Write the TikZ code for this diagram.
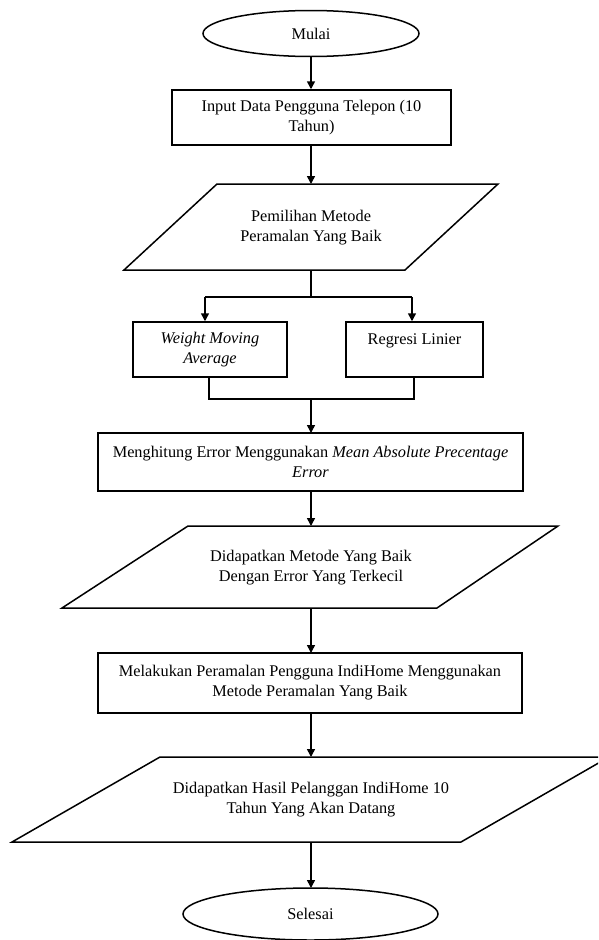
\documentclass[tikz,border=0pt]{standalone}
\usepackage{fontspec}
\setmainfont{Liberation Serif}
\usetikzlibrary{shapes.geometric,arrows.meta}
\begin{document}
\begin{tikzpicture}[x=1pt,y=-1pt,
  every node/.style={font=\fontsize{16.3}{20}\selectfont, align=center, inner sep=0pt},
  term/.style={draw, ellipse, line width=1.5pt},
  proc/.style={draw, rectangle, line width=1.5pt},
  ln/.style={line width=1.5pt},
  arr/.style={line width=1.5pt, -{Triangle[length=8pt,width=8pt]}}]
\clip (0,0) rectangle (598,940);
\fill[white] (0,0) rectangle (598,940);

% start
\node[term, minimum width=216pt, minimum height=46pt] (mulai) at (311,33.5) {Mulai};
\node[proc, minimum width=279pt, minimum height=55pt] (input) at (311.5,117.5) {Input Data Pengguna Telepon (10\\Tahun)};

% parallelogram 1
\coordinate (p1tl) at (217,184); \coordinate (p1tr) at (498,184);
\coordinate (p1br) at (405,270); \coordinate (p1bl) at (124,270);
\draw[ln] (p1tl) -- (p1tr) -- (p1br) -- (p1bl) -- cycle;
\node (pilih) at (311,228) {Pemilihan Metode\\Peramalan Yang Baik};
\coordinate (p1t) at (311,184); \coordinate (p1b) at (311,270);

% two methods
\node[proc, minimum width=154pt, minimum height=55pt, font=\fontsize{16.3}{20}\selectfont\itshape] (wma) at (210,349.5) {Weight Moving\\Average};
\node[proc, minimum width=137pt, minimum height=55pt] (reg) at (414.5,349.5) {Regresi Linier\\\mbox{}};

% box 3
\node[proc, minimum width=425pt, minimum height=58pt] (hitung) at (310.5,462) {Menghitung Error Menggunakan \textit{Mean Absolute Precentage}\\\textit{Error}};

% parallelogram 2
\coordinate (p2tl) at (188,526); \coordinate (p2tr) at (558,526);
\coordinate (p2br) at (437,608); \coordinate (p2bl) at (62,608);
\draw[ln] (p2tl) -- (p2tr) -- (p2br) -- (p2bl) -- cycle;
\node (dapat) at (311,568) {Didapatkan Metode Yang Baik\\Dengan Error Yang Terkecil};
\coordinate (p2t) at (311,526); \coordinate (p2b) at (311,608);

% box 4
\node[proc, minimum width=424pt, minimum height=60pt] (ramal) at (310,683) {Melakukan Peramalan Pengguna IndiHome Menggunakan\\Metode Peramalan Yang Baik};

% parallelogram 3
\coordinate (p3tl) at (160,757); \coordinate (p3tr) at (609,757);
\coordinate (p3br) at (461,842); \coordinate (p3bl) at (12,842);
\draw[ln] (p3tl) -- (p3tr) -- (p3br) -- (p3bl) -- cycle;
\node (hasil) at (311,800) {Didapatkan Hasil Pelanggan IndiHome 10\\Tahun Yang Akan Datang};
\coordinate (p3t) at (311,757); \coordinate (p3b) at (311,842);

% end
\node[term, minimum width=255pt, minimum height=52pt] (selesai) at (310.5,914) {Selesai};

% connectors
\draw[arr] (mulai.south) -- (mulai.south |- input.north);
\draw[arr] (mulai.south |- input.south) -- (p1t);
\coordinate (split) at (311,297);
\coordinate (sl) at (205,297); \coordinate (sr) at (412,297);
\draw[ln] (p1b) -- (split);
\draw[ln] (sl) -- (sr);
\draw[arr] (sl) -- (sl |- wma.north);
\draw[arr] (sr) -- (sr |- reg.north);
\coordinate (ml) at (209,399); \coordinate (mr) at (414,399);
\draw[ln] (ml |- wma.south) -- (ml) -- (mr) -- (mr |- reg.south);
\draw[arr] (311,399) -- (311,433);
\draw[arr] (311,491) -- (p2t);
\draw[arr] (p2b) -- (311,653);
\draw[arr] (311,713) -- (p3t);
\draw[arr] (p3b) -- (311,888);
\end{tikzpicture}
\end{document}
